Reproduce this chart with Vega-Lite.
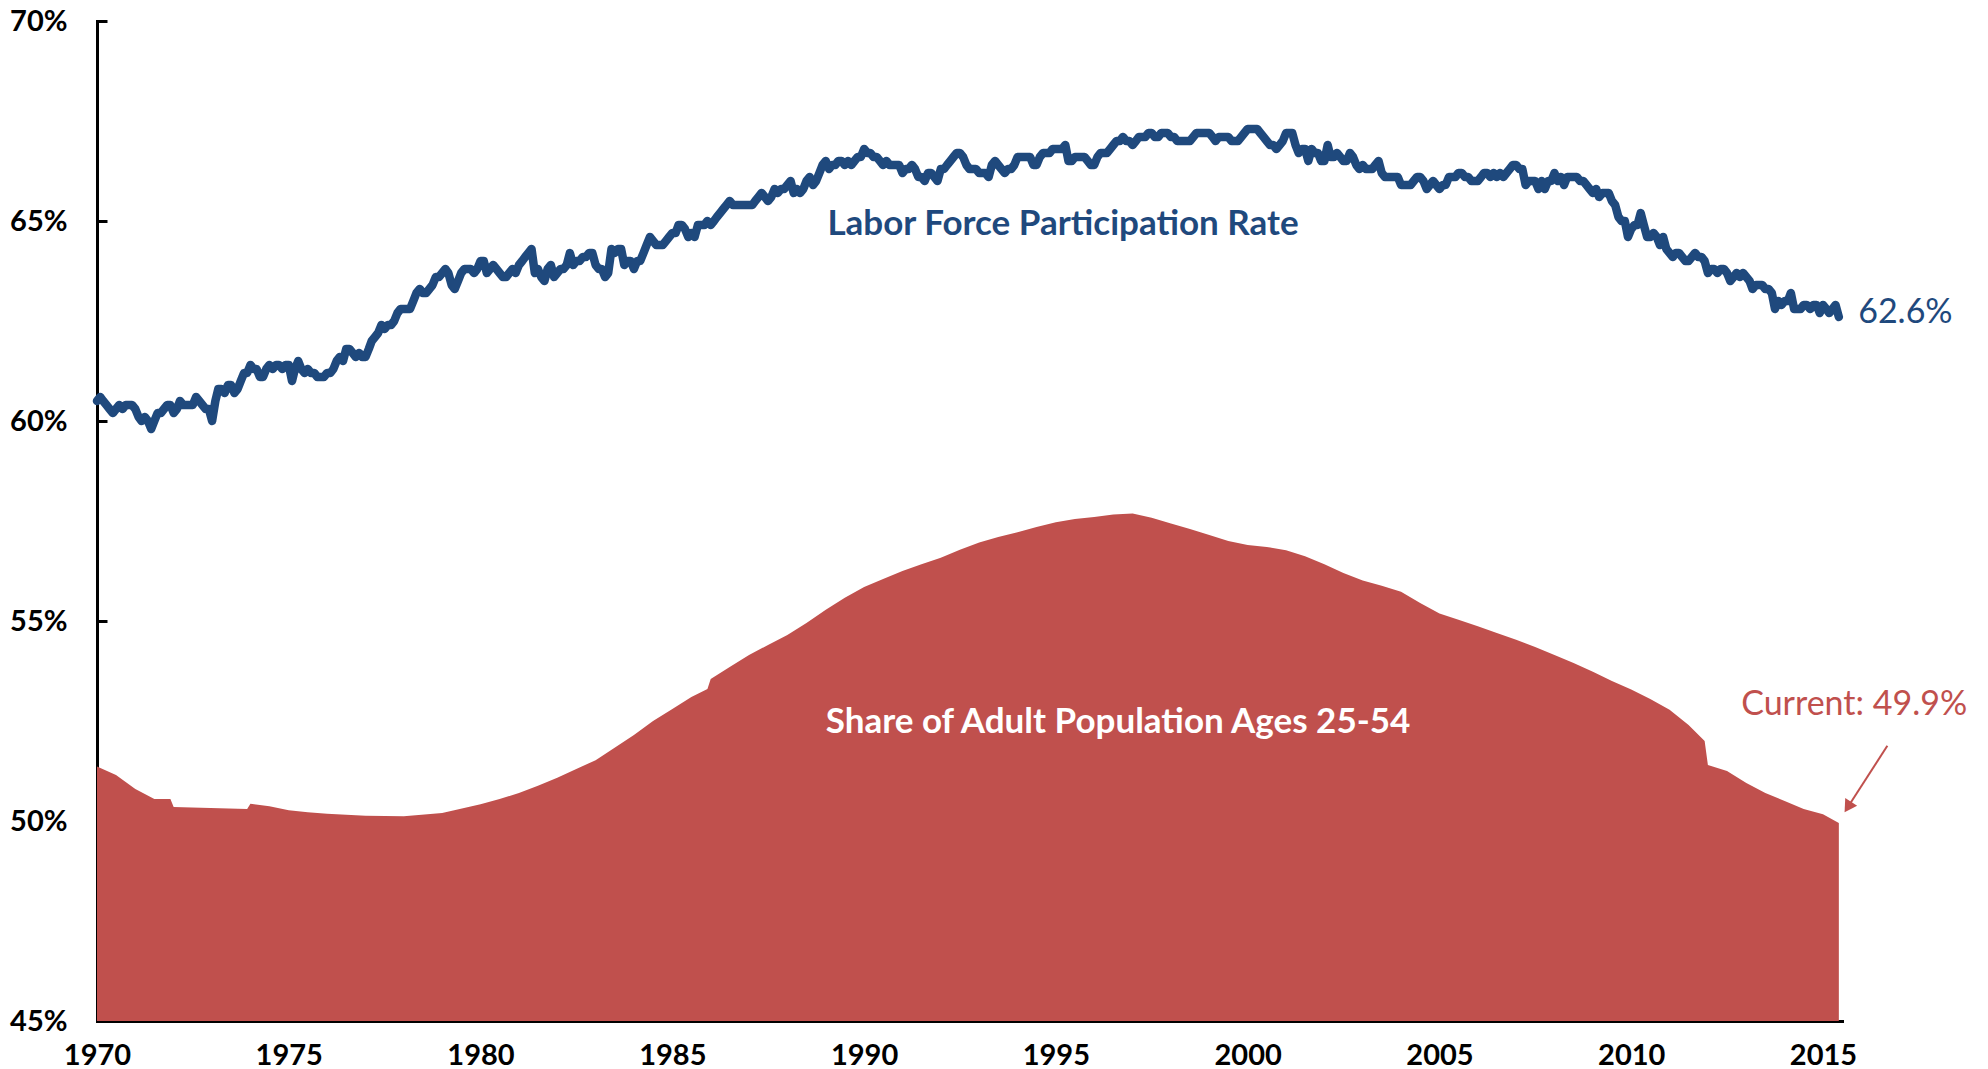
{
  "$schema": "https://vega.github.io/schema/vega-lite/v6.json",
  "width": 1745,
  "height": 1000,
  "autosize": {"type": "none"},
  "padding": {"left": 97, "top": 21, "right": 146, "bottom": 48},
  "background": "white",
  "config": {"view": {"stroke": null}, "font": "Lato"},
  "encoding": {
    "x": {
      "field": "d", "type": "temporal",
      "scale": {"domain": [{"year": 1970, "month": 1, "date": 1}, {"year": 2015, "month": 7, "date": 1}]},
      "axis": {
        "title": null, "grid": false, "format": "%Y",
        "tickCount": {"interval": "year", "step": 5},
        "domainColor": "black", "domainWidth": 3, "domainCap": "square",
        "tickColor": "black", "tickWidth": 3, "tickSize": -10,
        "labelFont": "Lato", "labelFontWeight": "bold", "labelFontSize": 29, "labelColor": "black",
        "labelPadding": 30, "labelFlush": false, "labelOverlap": false
      }
    },
    "y": {
      "field": "v", "type": "quantitative",
      "scale": {"domain": [45, 70], "nice": false, "zero": false},
      "axis": {
        "title": null, "grid": false, "values": [45, 50, 55, 60, 65, 70],
        "labelExpr": "datum.value + '%'",
        "domainColor": "black", "domainWidth": 3, "domainCap": "square",
        "tickColor": "black", "tickWidth": 3, "tickSize": -10,
        "labelFont": "Lato", "labelFontWeight": "bold", "labelFontSize": 29, "labelColor": "black",
        "labelPadding": 40, "labelFlush": false, "labelOverlap": false
      }
    }
  },
  "layer": [
    {
      "data": {
        "format": {"parse": {"d": "date:'%Y-%m'"}},
        "values": [
          {"d":"1970-01","v":51.36},{"d":"1970-07","v":51.15},{"d":"1971-01","v":50.8},{"d":"1971-07","v":50.55},{"d":"1971-12","v":50.55},
          {"d":"1972-01","v":50.35},{"d":"1973-12","v":50.3},{"d":"1974-01","v":50.43},{"d":"1974-07","v":50.37},{"d":"1975-01","v":50.27},
          {"d":"1975-07","v":50.22},{"d":"1976-01","v":50.18},{"d":"1977-01","v":50.13},{"d":"1978-01","v":50.12},{"d":"1979-01","v":50.2},
          {"d":"1980-01","v":50.42},{"d":"1980-07","v":50.55},{"d":"1981-01","v":50.7},{"d":"1981-07","v":50.88},{"d":"1982-01","v":51.08},
          {"d":"1982-07","v":51.3},{"d":"1983-01","v":51.52},{"d":"1983-07","v":51.83},{"d":"1984-01","v":52.15},{"d":"1984-07","v":52.5},
          {"d":"1985-01","v":52.8},{"d":"1985-07","v":53.1},{"d":"1985-12","v":53.3},{"d":"1986-01","v":53.55},{"d":"1986-07","v":53.85},
          {"d":"1987-01","v":54.15},{"d":"1987-07","v":54.4},{"d":"1988-01","v":54.65},{"d":"1988-07","v":54.95},{"d":"1989-01","v":55.28},
          {"d":"1989-07","v":55.58},{"d":"1990-01","v":55.85},{"d":"1990-07","v":56.05},{"d":"1991-01","v":56.25},{"d":"1991-07","v":56.42},
          {"d":"1992-01","v":56.58},{"d":"1992-07","v":56.78},{"d":"1993-01","v":56.96},{"d":"1993-07","v":57.1},{"d":"1994-01","v":57.22},
          {"d":"1994-07","v":57.35},{"d":"1995-01","v":57.47},{"d":"1995-07","v":57.55},{"d":"1996-01","v":57.6},{"d":"1996-07","v":57.66},
          {"d":"1997-01","v":57.69},{"d":"1997-07","v":57.58},{"d":"1998-01","v":57.44},{"d":"1998-07","v":57.3},{"d":"1999-01","v":57.15},
          {"d":"1999-07","v":57.0},{"d":"2000-01","v":56.9},{"d":"2000-07","v":56.85},{"d":"2001-01","v":56.77},{"d":"2001-07","v":56.62},
          {"d":"2002-01","v":56.42},{"d":"2002-07","v":56.2},{"d":"2003-01","v":56.01},{"d":"2003-07","v":55.88},{"d":"2004-01","v":55.73},
          {"d":"2004-07","v":55.45},{"d":"2005-01","v":55.19},{"d":"2005-07","v":55.03},{"d":"2006-01","v":54.87},{"d":"2006-07","v":54.7},
          {"d":"2007-01","v":54.53},{"d":"2007-07","v":54.35},{"d":"2008-01","v":54.15},{"d":"2008-07","v":53.95},{"d":"2009-01","v":53.73},
          {"d":"2009-07","v":53.5},{"d":"2010-01","v":53.29},{"d":"2010-07","v":53.05},{"d":"2011-01","v":52.78},{"d":"2011-07","v":52.4},
          {"d":"2011-12","v":52.0},{"d":"2012-01","v":51.4},{"d":"2012-07","v":51.25},{"d":"2013-01","v":50.95},{"d":"2013-07","v":50.7},
          {"d":"2014-01","v":50.5},{"d":"2014-07","v":50.3},{"d":"2015-01","v":50.17},{"d":"2015-06","v":49.95}
        ]
      },
      "mark": {"type": "area", "color": "#C0504D", "opacity": 1, "interpolate": "linear"},
      "encoding": {"y2": {"datum": 45}}
    },
    {
      "data": {
        "format": {"parse": {"d": "date:'%Y-%m'"}},
        "values": [
          {"d":"1970-01","v":60.5},{"d":"1970-02","v":60.6},{"d":"1970-03","v":60.5},{"d":"1970-04","v":60.4},{"d":"1970-05","v":60.3},{"d":"1970-06","v":60.2},{"d":"1970-07","v":60.3},{"d":"1970-08","v":60.4},{"d":"1970-09","v":60.3},{"d":"1970-10","v":60.4},{"d":"1970-11","v":60.4},{"d":"1970-12","v":60.4},
          {"d":"1971-01","v":60.3},{"d":"1971-02","v":60.1},{"d":"1971-03","v":60.0},{"d":"1971-04","v":60.1},{"d":"1971-05","v":60.0},{"d":"1971-06","v":59.8},{"d":"1971-07","v":60.0},{"d":"1971-08","v":60.2},{"d":"1971-09","v":60.2},{"d":"1971-10","v":60.3},{"d":"1971-11","v":60.4},{"d":"1971-12","v":60.4},
          {"d":"1972-01","v":60.2},{"d":"1972-02","v":60.3},{"d":"1972-03","v":60.5},{"d":"1972-04","v":60.4},{"d":"1972-05","v":60.4},{"d":"1972-06","v":60.4},{"d":"1972-07","v":60.4},{"d":"1972-08","v":60.6},{"d":"1972-09","v":60.5},{"d":"1972-10","v":60.4},{"d":"1972-11","v":60.3},{"d":"1972-12","v":60.3},
          {"d":"1973-01","v":60.0},{"d":"1973-02","v":60.5},{"d":"1973-03","v":60.8},{"d":"1973-04","v":60.8},{"d":"1973-05","v":60.7},{"d":"1973-06","v":60.9},{"d":"1973-07","v":60.9},{"d":"1973-08","v":60.7},{"d":"1973-09","v":60.8},{"d":"1973-10","v":61.0},{"d":"1973-11","v":61.2},{"d":"1973-12","v":61.2},
          {"d":"1974-01","v":61.4},{"d":"1974-02","v":61.3},{"d":"1974-03","v":61.3},{"d":"1974-04","v":61.1},{"d":"1974-05","v":61.1},{"d":"1974-06","v":61.3},{"d":"1974-07","v":61.4},{"d":"1974-08","v":61.3},{"d":"1974-09","v":61.4},{"d":"1974-10","v":61.4},{"d":"1974-11","v":61.3},{"d":"1974-12","v":61.4},
          {"d":"1975-01","v":61.4},{"d":"1975-02","v":61.0},{"d":"1975-03","v":61.3},{"d":"1975-04","v":61.5},{"d":"1975-05","v":61.3},{"d":"1975-06","v":61.2},{"d":"1975-07","v":61.3},{"d":"1975-08","v":61.2},{"d":"1975-09","v":61.2},{"d":"1975-10","v":61.1},{"d":"1975-11","v":61.1},{"d":"1975-12","v":61.1},
          {"d":"1976-01","v":61.2},{"d":"1976-02","v":61.2},{"d":"1976-03","v":61.3},{"d":"1976-04","v":61.5},{"d":"1976-05","v":61.6},{"d":"1976-06","v":61.5},{"d":"1976-07","v":61.8},{"d":"1976-08","v":61.8},{"d":"1976-09","v":61.7},{"d":"1976-10","v":61.6},{"d":"1976-11","v":61.7},{"d":"1976-12","v":61.6},
          {"d":"1977-01","v":61.6},{"d":"1977-02","v":61.8},{"d":"1977-03","v":62.0},{"d":"1977-04","v":62.1},{"d":"1977-05","v":62.2},{"d":"1977-06","v":62.4},{"d":"1977-07","v":62.3},{"d":"1977-08","v":62.4},{"d":"1977-09","v":62.4},{"d":"1977-10","v":62.5},{"d":"1977-11","v":62.7},{"d":"1977-12","v":62.8},
          {"d":"1978-01","v":62.8},{"d":"1978-02","v":62.8},{"d":"1978-03","v":62.8},{"d":"1978-04","v":63.0},{"d":"1978-05","v":63.2},{"d":"1978-06","v":63.3},{"d":"1978-07","v":63.2},{"d":"1978-08","v":63.2},{"d":"1978-09","v":63.3},{"d":"1978-10","v":63.4},{"d":"1978-11","v":63.6},{"d":"1978-12","v":63.6},
          {"d":"1979-01","v":63.7},{"d":"1979-02","v":63.8},{"d":"1979-03","v":63.7},{"d":"1979-04","v":63.4},{"d":"1979-05","v":63.3},{"d":"1979-06","v":63.5},{"d":"1979-07","v":63.7},{"d":"1979-08","v":63.8},{"d":"1979-09","v":63.8},{"d":"1979-10","v":63.8},{"d":"1979-11","v":63.7},{"d":"1979-12","v":63.8},
          {"d":"1980-01","v":64.0},{"d":"1980-02","v":64.0},{"d":"1980-03","v":63.7},{"d":"1980-04","v":63.8},{"d":"1980-05","v":63.9},{"d":"1980-06","v":63.8},{"d":"1980-07","v":63.7},{"d":"1980-08","v":63.6},{"d":"1980-09","v":63.6},{"d":"1980-10","v":63.7},{"d":"1980-11","v":63.8},{"d":"1980-12","v":63.7},
          {"d":"1981-01","v":63.9},{"d":"1981-02","v":64.0},{"d":"1981-03","v":64.1},{"d":"1981-04","v":64.2},{"d":"1981-05","v":64.3},{"d":"1981-06","v":63.7},{"d":"1981-07","v":63.8},{"d":"1981-08","v":63.6},{"d":"1981-09","v":63.5},{"d":"1981-10","v":63.8},{"d":"1981-11","v":63.9},{"d":"1981-12","v":63.6},
          {"d":"1982-01","v":63.7},{"d":"1982-02","v":63.8},{"d":"1982-03","v":63.8},{"d":"1982-04","v":63.9},{"d":"1982-05","v":64.2},{"d":"1982-06","v":63.9},{"d":"1982-07","v":64.0},{"d":"1982-08","v":64.0},{"d":"1982-09","v":64.1},{"d":"1982-10","v":64.1},{"d":"1982-11","v":64.2},{"d":"1982-12","v":64.2},
          {"d":"1983-01","v":63.9},{"d":"1983-02","v":63.8},{"d":"1983-03","v":63.8},{"d":"1983-04","v":63.6},{"d":"1983-05","v":63.7},{"d":"1983-06","v":64.3},{"d":"1983-07","v":64.2},{"d":"1983-08","v":64.3},{"d":"1983-09","v":64.3},{"d":"1983-10","v":63.9},{"d":"1983-11","v":64.0},{"d":"1983-12","v":64.0},
          {"d":"1984-01","v":63.8},{"d":"1984-02","v":64.0},{"d":"1984-03","v":64.0},{"d":"1984-04","v":64.2},{"d":"1984-05","v":64.4},{"d":"1984-06","v":64.6},{"d":"1984-07","v":64.5},{"d":"1984-08","v":64.4},{"d":"1984-09","v":64.4},{"d":"1984-10","v":64.4},{"d":"1984-11","v":64.5},{"d":"1984-12","v":64.6},
          {"d":"1985-01","v":64.7},{"d":"1985-02","v":64.7},{"d":"1985-03","v":64.9},{"d":"1985-04","v":64.9},{"d":"1985-05","v":64.8},{"d":"1985-06","v":64.6},{"d":"1985-07","v":64.7},{"d":"1985-08","v":64.6},{"d":"1985-09","v":64.9},{"d":"1985-10","v":64.9},{"d":"1985-11","v":64.9},{"d":"1985-12","v":65.0},
          {"d":"1986-01","v":64.9},{"d":"1986-02","v":65.0},{"d":"1986-03","v":65.1},{"d":"1986-04","v":65.2},{"d":"1986-05","v":65.3},{"d":"1986-06","v":65.4},{"d":"1986-07","v":65.5},{"d":"1986-08","v":65.4},{"d":"1986-09","v":65.4},{"d":"1986-10","v":65.4},{"d":"1986-11","v":65.4},{"d":"1986-12","v":65.4},
          {"d":"1987-01","v":65.4},{"d":"1987-02","v":65.4},{"d":"1987-03","v":65.5},{"d":"1987-04","v":65.6},{"d":"1987-05","v":65.7},{"d":"1987-06","v":65.6},{"d":"1987-07","v":65.5},{"d":"1987-08","v":65.6},{"d":"1987-09","v":65.8},{"d":"1987-10","v":65.7},{"d":"1987-11","v":65.8},{"d":"1987-12","v":65.8},
          {"d":"1988-01","v":65.9},{"d":"1988-02","v":66.0},{"d":"1988-03","v":65.7},{"d":"1988-04","v":65.8},{"d":"1988-05","v":65.7},{"d":"1988-06","v":65.8},{"d":"1988-07","v":66.0},{"d":"1988-08","v":66.1},{"d":"1988-09","v":65.9},{"d":"1988-10","v":66.0},{"d":"1988-11","v":66.2},{"d":"1988-12","v":66.4},
          {"d":"1989-01","v":66.5},{"d":"1989-02","v":66.3},{"d":"1989-03","v":66.4},{"d":"1989-04","v":66.4},{"d":"1989-05","v":66.5},{"d":"1989-06","v":66.5},{"d":"1989-07","v":66.4},{"d":"1989-08","v":66.5},{"d":"1989-09","v":66.4},{"d":"1989-10","v":66.5},{"d":"1989-11","v":66.6},{"d":"1989-12","v":66.6},
          {"d":"1990-01","v":66.8},{"d":"1990-02","v":66.7},{"d":"1990-03","v":66.7},{"d":"1990-04","v":66.6},{"d":"1990-05","v":66.6},{"d":"1990-06","v":66.5},{"d":"1990-07","v":66.4},{"d":"1990-08","v":66.5},{"d":"1990-09","v":66.4},{"d":"1990-10","v":66.4},{"d":"1990-11","v":66.4},{"d":"1990-12","v":66.4},
          {"d":"1991-01","v":66.2},{"d":"1991-02","v":66.3},{"d":"1991-03","v":66.3},{"d":"1991-04","v":66.4},{"d":"1991-05","v":66.3},{"d":"1991-06","v":66.1},{"d":"1991-07","v":66.1},{"d":"1991-08","v":66.0},{"d":"1991-09","v":66.2},{"d":"1991-10","v":66.2},{"d":"1991-11","v":66.1},{"d":"1991-12","v":66.0},
          {"d":"1992-01","v":66.3},{"d":"1992-02","v":66.3},{"d":"1992-03","v":66.4},{"d":"1992-04","v":66.5},{"d":"1992-05","v":66.6},{"d":"1992-06","v":66.7},{"d":"1992-07","v":66.7},{"d":"1992-08","v":66.6},{"d":"1992-09","v":66.4},{"d":"1992-10","v":66.3},{"d":"1992-11","v":66.3},{"d":"1992-12","v":66.3},
          {"d":"1993-01","v":66.2},{"d":"1993-02","v":66.2},{"d":"1993-03","v":66.2},{"d":"1993-04","v":66.1},{"d":"1993-05","v":66.4},{"d":"1993-06","v":66.5},{"d":"1993-07","v":66.4},{"d":"1993-08","v":66.3},{"d":"1993-09","v":66.2},{"d":"1993-10","v":66.3},{"d":"1993-11","v":66.3},{"d":"1993-12","v":66.4},
          {"d":"1994-01","v":66.6},{"d":"1994-02","v":66.6},{"d":"1994-03","v":66.6},{"d":"1994-04","v":66.6},{"d":"1994-05","v":66.6},{"d":"1994-06","v":66.4},{"d":"1994-07","v":66.4},{"d":"1994-08","v":66.6},{"d":"1994-09","v":66.7},{"d":"1994-10","v":66.7},{"d":"1994-11","v":66.7},{"d":"1994-12","v":66.8},
          {"d":"1995-01","v":66.8},{"d":"1995-02","v":66.8},{"d":"1995-03","v":66.8},{"d":"1995-04","v":66.9},{"d":"1995-05","v":66.5},{"d":"1995-06","v":66.5},{"d":"1995-07","v":66.6},{"d":"1995-08","v":66.6},{"d":"1995-09","v":66.6},{"d":"1995-10","v":66.6},{"d":"1995-11","v":66.5},{"d":"1995-12","v":66.4},
          {"d":"1996-01","v":66.4},{"d":"1996-02","v":66.6},{"d":"1996-03","v":66.7},{"d":"1996-04","v":66.7},{"d":"1996-05","v":66.7},{"d":"1996-06","v":66.8},{"d":"1996-07","v":66.9},{"d":"1996-08","v":67.0},{"d":"1996-09","v":67.0},{"d":"1996-10","v":67.1},{"d":"1996-11","v":67.0},{"d":"1996-12","v":67.0},
          {"d":"1997-01","v":66.9},{"d":"1997-02","v":67.0},{"d":"1997-03","v":67.1},{"d":"1997-04","v":67.1},{"d":"1997-05","v":67.1},{"d":"1997-06","v":67.2},{"d":"1997-07","v":67.2},{"d":"1997-08","v":67.1},{"d":"1997-09","v":67.1},{"d":"1997-10","v":67.2},{"d":"1997-11","v":67.2},{"d":"1997-12","v":67.2},
          {"d":"1998-01","v":67.1},{"d":"1998-02","v":67.1},{"d":"1998-03","v":67.0},{"d":"1998-04","v":67.0},{"d":"1998-05","v":67.0},{"d":"1998-06","v":67.0},{"d":"1998-07","v":67.0},{"d":"1998-08","v":67.1},{"d":"1998-09","v":67.2},{"d":"1998-10","v":67.2},{"d":"1998-11","v":67.2},{"d":"1998-12","v":67.2},
          {"d":"1999-01","v":67.2},{"d":"1999-02","v":67.1},{"d":"1999-03","v":67.0},{"d":"1999-04","v":67.1},{"d":"1999-05","v":67.1},{"d":"1999-06","v":67.1},{"d":"1999-07","v":67.1},{"d":"1999-08","v":67.0},{"d":"1999-09","v":67.0},{"d":"1999-10","v":67.0},{"d":"1999-11","v":67.1},{"d":"1999-12","v":67.2},
          {"d":"2000-01","v":67.3},{"d":"2000-02","v":67.3},{"d":"2000-03","v":67.3},{"d":"2000-04","v":67.3},{"d":"2000-05","v":67.2},{"d":"2000-06","v":67.1},{"d":"2000-07","v":67.0},{"d":"2000-08","v":66.9},{"d":"2000-09","v":66.9},{"d":"2000-10","v":66.8},{"d":"2000-11","v":66.9},{"d":"2000-12","v":67.0},
          {"d":"2001-01","v":67.2},{"d":"2001-02","v":67.2},{"d":"2001-03","v":67.2},{"d":"2001-04","v":66.9},{"d":"2001-05","v":66.7},{"d":"2001-06","v":66.8},{"d":"2001-07","v":66.8},{"d":"2001-08","v":66.5},{"d":"2001-09","v":66.8},{"d":"2001-10","v":66.7},{"d":"2001-11","v":66.7},{"d":"2001-12","v":66.5},
          {"d":"2002-01","v":66.5},{"d":"2002-02","v":66.9},{"d":"2002-03","v":66.6},{"d":"2002-04","v":66.6},{"d":"2002-05","v":66.7},{"d":"2002-06","v":66.6},{"d":"2002-07","v":66.5},{"d":"2002-08","v":66.5},{"d":"2002-09","v":66.7},{"d":"2002-10","v":66.6},{"d":"2002-11","v":66.4},{"d":"2002-12","v":66.3},
          {"d":"2003-01","v":66.4},{"d":"2003-02","v":66.3},{"d":"2003-03","v":66.3},{"d":"2003-04","v":66.3},{"d":"2003-05","v":66.4},{"d":"2003-06","v":66.5},{"d":"2003-07","v":66.2},{"d":"2003-08","v":66.1},{"d":"2003-09","v":66.1},{"d":"2003-10","v":66.1},{"d":"2003-11","v":66.1},{"d":"2003-12","v":66.1},
          {"d":"2004-01","v":65.9},{"d":"2004-02","v":65.9},{"d":"2004-03","v":65.9},{"d":"2004-04","v":65.9},{"d":"2004-05","v":66.0},{"d":"2004-06","v":66.1},{"d":"2004-07","v":66.1},{"d":"2004-08","v":66.0},{"d":"2004-09","v":65.8},{"d":"2004-10","v":65.9},{"d":"2004-11","v":66.0},{"d":"2004-12","v":65.9},
          {"d":"2005-01","v":65.8},{"d":"2005-02","v":65.9},{"d":"2005-03","v":65.9},{"d":"2005-04","v":66.1},{"d":"2005-05","v":66.1},{"d":"2005-06","v":66.1},{"d":"2005-07","v":66.2},{"d":"2005-08","v":66.2},{"d":"2005-09","v":66.1},{"d":"2005-10","v":66.1},{"d":"2005-11","v":66.0},{"d":"2005-12","v":66.0},
          {"d":"2006-01","v":66.0},{"d":"2006-02","v":66.1},{"d":"2006-03","v":66.2},{"d":"2006-04","v":66.2},{"d":"2006-05","v":66.1},{"d":"2006-06","v":66.2},{"d":"2006-07","v":66.1},{"d":"2006-08","v":66.2},{"d":"2006-09","v":66.1},{"d":"2006-10","v":66.2},{"d":"2006-11","v":66.3},{"d":"2006-12","v":66.4},
          {"d":"2007-01","v":66.4},{"d":"2007-02","v":66.3},{"d":"2007-03","v":66.3},{"d":"2007-04","v":65.9},{"d":"2007-05","v":66.0},{"d":"2007-06","v":66.0},{"d":"2007-07","v":66.0},{"d":"2007-08","v":65.8},{"d":"2007-09","v":66.0},{"d":"2007-10","v":65.8},{"d":"2007-11","v":66.0},{"d":"2007-12","v":66.0},
          {"d":"2008-01","v":66.2},{"d":"2008-02","v":66.0},{"d":"2008-03","v":66.1},{"d":"2008-04","v":65.9},{"d":"2008-05","v":66.1},{"d":"2008-06","v":66.1},{"d":"2008-07","v":66.1},{"d":"2008-08","v":66.1},{"d":"2008-09","v":66.0},{"d":"2008-10","v":66.0},{"d":"2008-11","v":65.9},{"d":"2008-12","v":65.8},
          {"d":"2009-01","v":65.7},{"d":"2009-02","v":65.8},{"d":"2009-03","v":65.6},{"d":"2009-04","v":65.7},{"d":"2009-05","v":65.7},{"d":"2009-06","v":65.7},{"d":"2009-07","v":65.5},{"d":"2009-08","v":65.4},{"d":"2009-09","v":65.1},{"d":"2009-10","v":65.0},{"d":"2009-11","v":65.0},{"d":"2009-12","v":64.6},
          {"d":"2010-01","v":64.8},{"d":"2010-02","v":64.9},{"d":"2010-03","v":64.9},{"d":"2010-04","v":65.2},{"d":"2010-05","v":64.9},{"d":"2010-06","v":64.6},{"d":"2010-07","v":64.6},{"d":"2010-08","v":64.7},{"d":"2010-09","v":64.6},{"d":"2010-10","v":64.4},{"d":"2010-11","v":64.6},{"d":"2010-12","v":64.3},
          {"d":"2011-01","v":64.2},{"d":"2011-02","v":64.1},{"d":"2011-03","v":64.2},{"d":"2011-04","v":64.2},{"d":"2011-05","v":64.1},{"d":"2011-06","v":64.0},{"d":"2011-07","v":64.0},{"d":"2011-08","v":64.1},{"d":"2011-09","v":64.2},{"d":"2011-10","v":64.1},{"d":"2011-11","v":64.1},{"d":"2011-12","v":64.0},
          {"d":"2012-01","v":63.7},{"d":"2012-02","v":63.8},{"d":"2012-03","v":63.8},{"d":"2012-04","v":63.7},{"d":"2012-05","v":63.8},{"d":"2012-06","v":63.8},{"d":"2012-07","v":63.7},{"d":"2012-08","v":63.5},{"d":"2012-09","v":63.6},{"d":"2012-10","v":63.7},{"d":"2012-11","v":63.6},{"d":"2012-12","v":63.7},
          {"d":"2013-01","v":63.6},{"d":"2013-02","v":63.5},{"d":"2013-03","v":63.3},{"d":"2013-04","v":63.4},{"d":"2013-05","v":63.4},{"d":"2013-06","v":63.4},{"d":"2013-07","v":63.3},{"d":"2013-08","v":63.3},{"d":"2013-09","v":63.2},{"d":"2013-10","v":62.8},{"d":"2013-11","v":63.0},{"d":"2013-12","v":62.9},
          {"d":"2014-01","v":63.0},{"d":"2014-02","v":63.0},{"d":"2014-03","v":63.2},{"d":"2014-04","v":62.8},{"d":"2014-05","v":62.8},{"d":"2014-06","v":62.8},{"d":"2014-07","v":62.9},{"d":"2014-08","v":62.9},{"d":"2014-09","v":62.8},{"d":"2014-10","v":62.9},{"d":"2014-11","v":62.9},{"d":"2014-12","v":62.7},
          {"d":"2015-01","v":62.9},{"d":"2015-02","v":62.8},{"d":"2015-03","v":62.7},{"d":"2015-04","v":62.8},{"d":"2015-05","v":62.9},{"d":"2015-06","v":62.6}
        ]
      },
      "mark": {"type": "line", "color": "#1F497D", "strokeWidth": 8.5, "strokeJoin": "round", "strokeCap": "round"}
    },
    {
      "data": {"format": {"parse": {"d": "date:'%Y-%m-%d'"}}, "values": [{"d": "1995-03-10", "v": 64.65, "t": "Labor Force Participation Rate"}]},
      "mark": {"type": "text", "font": "Lato", "fontWeight": "bold", "fontSize": 35, "color": "#1F497D", "align": "center", "baseline": "alphabetic"},
      "encoding": {"text": {"field": "t"}}
    },
    {
      "data": {"format": {"parse": {"d": "date:'%Y-%m-%d'"}}, "values": [{"d": "1996-08-15", "v": 52.2, "t": "Share of Adult Population Ages 25-54"}]},
      "mark": {"type": "text", "font": "Lato", "fontWeight": "bold", "fontSize": 35, "color": "white", "align": "center", "baseline": "alphabetic"},
      "encoding": {"text": {"field": "t"}}
    },
    {
      "data": {"format": {"parse": {"d": "date:'%Y-%m-%d'"}}, "values": [{"d": "2015-12-02", "v": 62.45, "t": "62.6%"}]},
      "mark": {"type": "text", "font": "Lato", "fontSize": 34, "color": "#1F497D", "align": "left", "baseline": "alphabetic"},
      "encoding": {"text": {"field": "t"}}
    },
    {
      "data": {"format": {"parse": {"d": "date:'%Y-%m-%d'"}}, "values": [{"d": "2012-11-13", "v": 52.65, "t": "Current: 49.9%"}]},
      "mark": {"type": "text", "font": "Lato", "fontSize": 34, "color": "#C0504D", "align": "left", "baseline": "alphabetic"},
      "encoding": {"text": {"field": "t"}}
    },
    {
      "data": {"format": {"parse": {"d": "date:'%Y-%m-%d'", "d2": "date:'%Y-%m-%d'"}}, "values": [{"d": "2016-09-05", "v": 51.88, "d2": "2015-08-26", "v2": 50.35}]},
      "mark": {"type": "rule", "color": "#C0504D", "strokeWidth": 2},
      "encoding": {"x2": {"field": "d2"}, "y2": {"field": "v2"}}
    },
    {
      "data": {"format": {"parse": {"d": "date:'%Y-%m-%d'"}}, "values": [{"d": "2015-08-26", "v": 50.35}]},
      "mark": {"type": "point", "shape": "triangle-up", "angle": 212.7, "size": 200, "filled": true, "color": "#C0504D", "opacity": 1}
    }
  ]
}
